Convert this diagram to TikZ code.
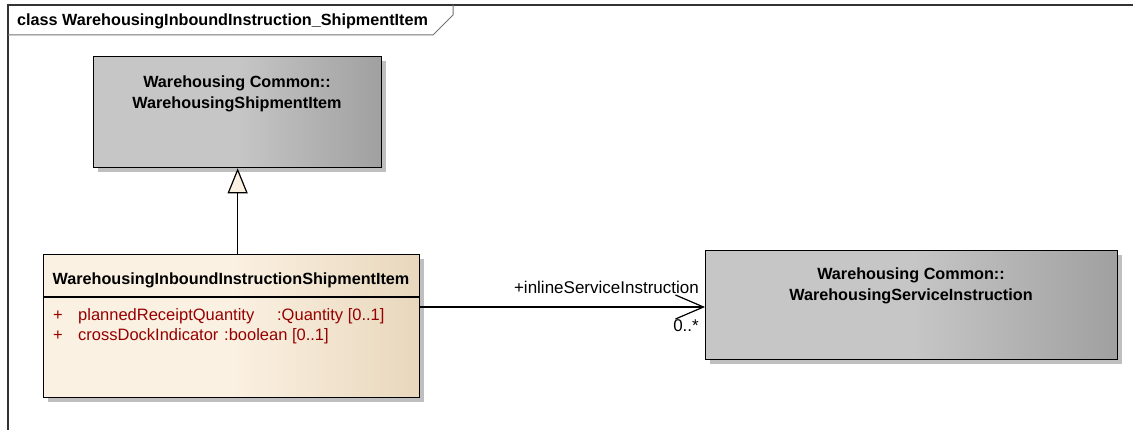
\documentclass[tikz,border=0pt]{standalone}
\usepackage{fontspec}
\setmainfont{Liberation Sans}
\usetikzlibrary{arrows.meta}
\usetikzlibrary{shadows}
\usetikzlibrary{calc}
\definecolor{attrred}{RGB}{150,0,0}
\definecolor{grayL}{RGB}{198,198,198}
\definecolor{grayR}{RGB}{160,160,160}
\definecolor{creamL}{RGB}{251,241,226}
\definecolor{creamR}{RGB}{232,215,188}

\begin{document}
\begin{tikzpicture}[x=1pt,y=-1pt,>=Latex,
	box/.style={draw=black, line width=1.3pt, inner sep=0pt, anchor=north west,
		drop shadow={shadow xshift=4pt, shadow yshift=-4pt, fill=black!25, opacity=1}},
	graybox/.style={box, left color=grayL, right color=grayR, middle color=grayL},
	creambox/.style={box, left color=creamL, right color=creamR, middle color=creamL},
	btxt/.style={font=\fontsize{16.2}{19}\selectfont\bfseries, inner sep=0pt, anchor=base},
	atxt/.style={font=\fontsize{16.5}{20}\selectfont, text=attrred, inner sep=0pt, anchor=base west},
	ltxt/.style={font=\fontsize{17}{20}\selectfont, inner sep=0pt, anchor=base east}]
			\useasboundingbox[fill=white] (0,0) rectangle (1133,430);
			% frame and title tab
			\draw[line width=1.2pt, black!80] (1133,5) -- (8,5) -- (8,430);
			\draw[line width=1pt, black!55] (8,35) -- (433,35) -- (453,15) -- (453,5);
			\node[btxt, anchor=base west] (title) at (17,26) {class WarehousingInboundInstruction\_ShipmentItem};
			
			% classes
			\node[graybox, minimum width=288pt, minimum height=111pt] (shipitem) at (93,56) {};
			\node[btxt] (shipitemA) at (237,88) {Warehousing Common::};
			\node[btxt] (shipitemB) at (237,109) {WarehousingShipmentItem};
			
			\node[creambox, minimum width=376pt, minimum height=143pt] (inbound) at (43,254) {};
			\draw[line width=1.2pt] ($(inbound.north west)+(0,43)$) -- ($(inbound.north east)+(0,43)$);
			\node[btxt] (inboundname) at (231,285) {WarehousingInboundInstructionShipmentItem};
			\node[atxt] (plusA) at (53,321) {+};
			\node[atxt] (attrA) at (78,321) {\makebox[199pt][l]{plannedReceiptQuantity}:Quantity [0..1]};
			\node[atxt] (plusB) at (53,341) {+};
			\node[atxt] (attrB) at (78,341) {\makebox[146pt][l]{crossDockIndicator}:boolean [0..1]};
			
			\node[graybox, minimum width=412pt, minimum height=109pt] (service) at (705,250) {};
			\node[btxt] (serviceA) at (911,280) {Warehousing Common::};
			\node[btxt] (serviceB) at (911,301) {WarehousingServiceInstruction};
			
			% generalisation
			\draw[line width=1.2pt, -{Triangle[length=25pt, width=20pt, fill=creamL]}]
			(shipitem.south |- inbound.north) -- (shipitem.south);
			
			% association
			\draw[line width=1.2pt, -{Straight Barb[length=28pt, width=24pt]}]
			(inbound.east |- 0,307) -- (service.west |- 0,307);
			\node[ltxt] (role) at (699,294) {+inlineServiceInstruction};
			\node[ltxt] (mult) at (699,332) {0..*};
		\end{tikzpicture}
\end{document}
